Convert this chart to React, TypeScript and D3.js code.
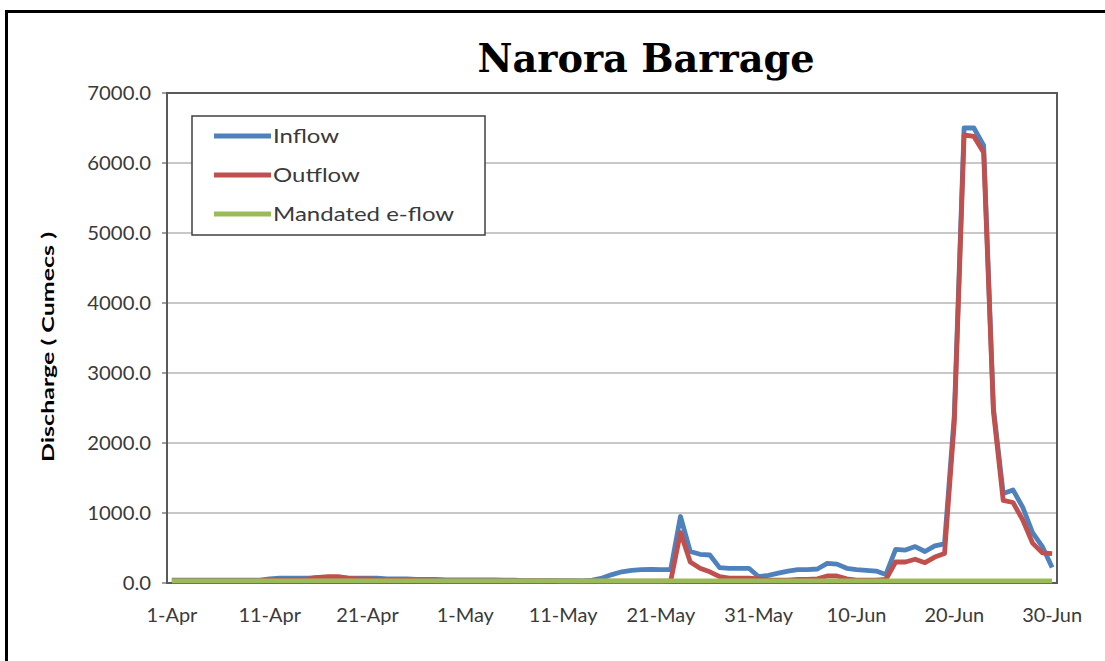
import React from "react";
import * as d3 from "d3";

// ---- data ----
const categories: string[] = d3.timeDay
  .range(new Date(2014, 3, 1), new Date(2014, 6, 1))
  .map((d) => d3.timeFormat("%-d-%b")(d));

const inflow: number[] = [
  // Apr 1-10
  40, 40, 40, 40, 40, 40, 40, 40, 40, 40,
  // Apr 11-20
  60, 70, 70, 70, 70, 80, 80, 80, 70, 70,
  // Apr 21-30
  70, 70, 60, 60, 60, 50, 50, 50, 45, 45,
  // May 1-10
  45, 45, 45, 45, 40, 40, 35, 35, 35, 35,
  // May 11-20
  35, 35, 30, 40, 70, 120, 160, 180, 190, 195,
  // May 21-31
  190, 190, 950, 450, 410, 400, 220, 210, 210, 210, 90,
  // Jun 1-10
  110, 140, 170, 190, 190, 200, 280, 270, 210, 190,
  // Jun 11-20
  180, 170, 120, 480, 470, 520, 450, 530, 560, 2400,
  // Jun 21-30
  6500, 6500, 6250, 2500, 1280, 1330, 1080, 720, 520, 220,
];

const outflow: number[] = [
  30, 30, 30, 30, 30, 30, 30, 30, 30, 30,
  40, 50, 50, 50, 60, 80, 90, 90, 70, 60,
  60, 50, 40, 40, 40, 35, 35, 30, 30, 30,
  30, 30, 30, 30, 30, 30, 30, 30, 30, 30,
  25, 25, 25, 25, 25, 25, 25, 25, 25, 25,
  25, 30, 720, 300, 210, 160, 90, 70, 70, 70, 60,
  40, 40, 40, 50, 50, 60, 100, 100, 60, 40,
  40, 40, 50, 300, 300, 340, 290, 370, 420, 2300,
  6400, 6380, 6150, 2450, 1180, 1150, 900, 570, 430, 420,
];

const eflow: number[] = [
  30, 30, 30, 30, 30, 30, 30, 30, 30, 30,
  30, 30, 30, 30, 30, 30, 30, 30, 30, 30,
  30, 30, 30, 30, 30, 30, 30, 30, 30, 30,
  30, 30, 30, 30, 30, 30, 30, 30, 30, 30,
  30, 30, 30, 30, 30, 30, 30, 30, 30, 30,
  30, 30, 30, 30, 30, 30, 30, 30, 30, 30, 30,
  30, 30, 30, 30, 30, 30, 30, 30, 30, 30,
  30, 30, 30, 30, 30, 30, 30, 30, 30, 30,
  30, 30, 30, 30, 30, 30, 30, 30, 30, 30,
];

const yTicks: number[] = [0, 1000, 2000, 3000, 4000, 5000, 6000, 7000];
const xTickLabels: string[] = [
  "1-Apr", "11-Apr", "21-Apr", "1-May", "11-May",
  "21-May", "31-May", "10-Jun", "20-Jun", "30-Jun",
];

const seriesNames = ["Inflow", "Outflow", "Mandated e-flow"];
const seriesColors = ["#4F81BD", "#C0504D", "#9BBB59"];

const FONT = "Lato, 'Open Sans', sans-serif";

function SText(props: {
  x: number; y: number; sx: number; anchor?: string; size: number;
  fill?: string; weight?: string; children: React.ReactNode;
}) {
  return (
    <g transform={`translate(${props.x},${props.y}) scale(${props.sx},1)`}>
      <text
        x={0}
        y={0}
        textAnchor={props.anchor || "start"}
        fontFamily={FONT}
        fontSize={props.size}
        fontWeight={props.weight || "normal"}
        fill={props.fill || "#3a3a3a"}
      >
        {props.children}
      </text>
    </g>
  );
}

export default function App() {
  const W = 1105;
  const H = 661;
  const left = 167, right = 1057, top = 93, bottom = 583;

  const x = d3.scalePoint<string>().domain(categories).range([left, right]).padding(0.5);
  const y = d3.scaleLinear().domain([0, 7000]).range([bottom, top]);

  const line = d3
    .line<number>()
    .x((_, i) => x(categories[i]) as number)
    .y((v) => y(v));

  const allSeries = [inflow, outflow, eflow];
  const fmt = d3.format(".1f");

  return (
    <svg
      width={W}
      height={H}
      style={{ position: "absolute", left: 0, top: 0, background: "#fff" }}
    >
      <rect x={0} y={0} width={W} height={H} fill="#fff" />
      {/* outer border */}
      <rect x={6.5} y={11.5} width={1300} height={900} fill="none" stroke="#000" strokeWidth={3} />

      {/* title */}
      <text
        x={646}
        y={72}
        textAnchor="middle"
        fontFamily="'DejaVu Serif Condensed', 'DejaVu Serif', serif"
        fontStretch="condensed"
        fontWeight="bold"
        fontSize={40}
        textLength={337}
        lengthAdjust="spacingAndGlyphs"
        fill="#000"
      >
        Narora Barrage
      </text>

      {/* gridlines */}
      {yTicks.map((t) => (
        <line key={"g" + t} x1={left} x2={right} y1={y(t)} y2={y(t)} stroke="#C8C8C8" strokeWidth={2} />
      ))}
      {/* y tick marks */}
      {yTicks.map((t) => (
        <line key={"tm" + t} x1={left - 5} x2={left} y1={y(t)} y2={y(t)} stroke="#808080" strokeWidth={1.5} />
      ))}
      {/* y tick labels */}
      {yTicks.map((t) => (
        <SText key={"tl" + t} x={151} y={y(t) + 7} sx={1.07} anchor="end" size={19}>
          {fmt(t)}
        </SText>
      ))}

      {/* plot border */}
      <rect x={left} y={top} width={right - left} height={bottom - top} fill="none" stroke="#5a5a5a" strokeWidth={2} />

      {/* x tick labels */}
      {xTickLabels.map((lab) => (
        <SText key={"xl" + lab} x={x(lab) as number} y={622} sx={1.05} anchor="middle" size={19}>
          {lab}
        </SText>
      ))}

      {/* y axis title */}
      <text
        transform={`translate(54, 347) rotate(-90)`}
        textAnchor="middle"
        fontFamily={FONT}
        fontWeight="bold"
        fontSize={17}
        textLength={230}
        lengthAdjust="spacingAndGlyphs"
        fill="#000"
      >
        Discharge ( Cumecs )
      </text>

      {/* series */}
      {allSeries.map((s, k) => (
        <path
          key={"s" + k}
          d={line(s) || ""}
          fill="none"
          stroke={seriesColors[k]}
          strokeWidth={4.8}
          strokeLinejoin="round"
          strokeLinecap="butt"
        />
      ))}

      {/* legend */}
      <rect x={192} y={116} width={293} height={119} fill="#fff" stroke="#404040" strokeWidth={1.5} />
      {seriesNames.map((n, k) => {
        const ly = 136 + k * 39;
        return (
          <g key={"lg" + k}>
            <line x1={214} x2={271} y1={ly} y2={ly} stroke={seriesColors[k]} strokeWidth={4.8} />
            <SText x={273} y={ly + 7} sx={1.2} size={20}>
              {n}
            </SText>
          </g>
        );
      })}
    </svg>
  );
}
